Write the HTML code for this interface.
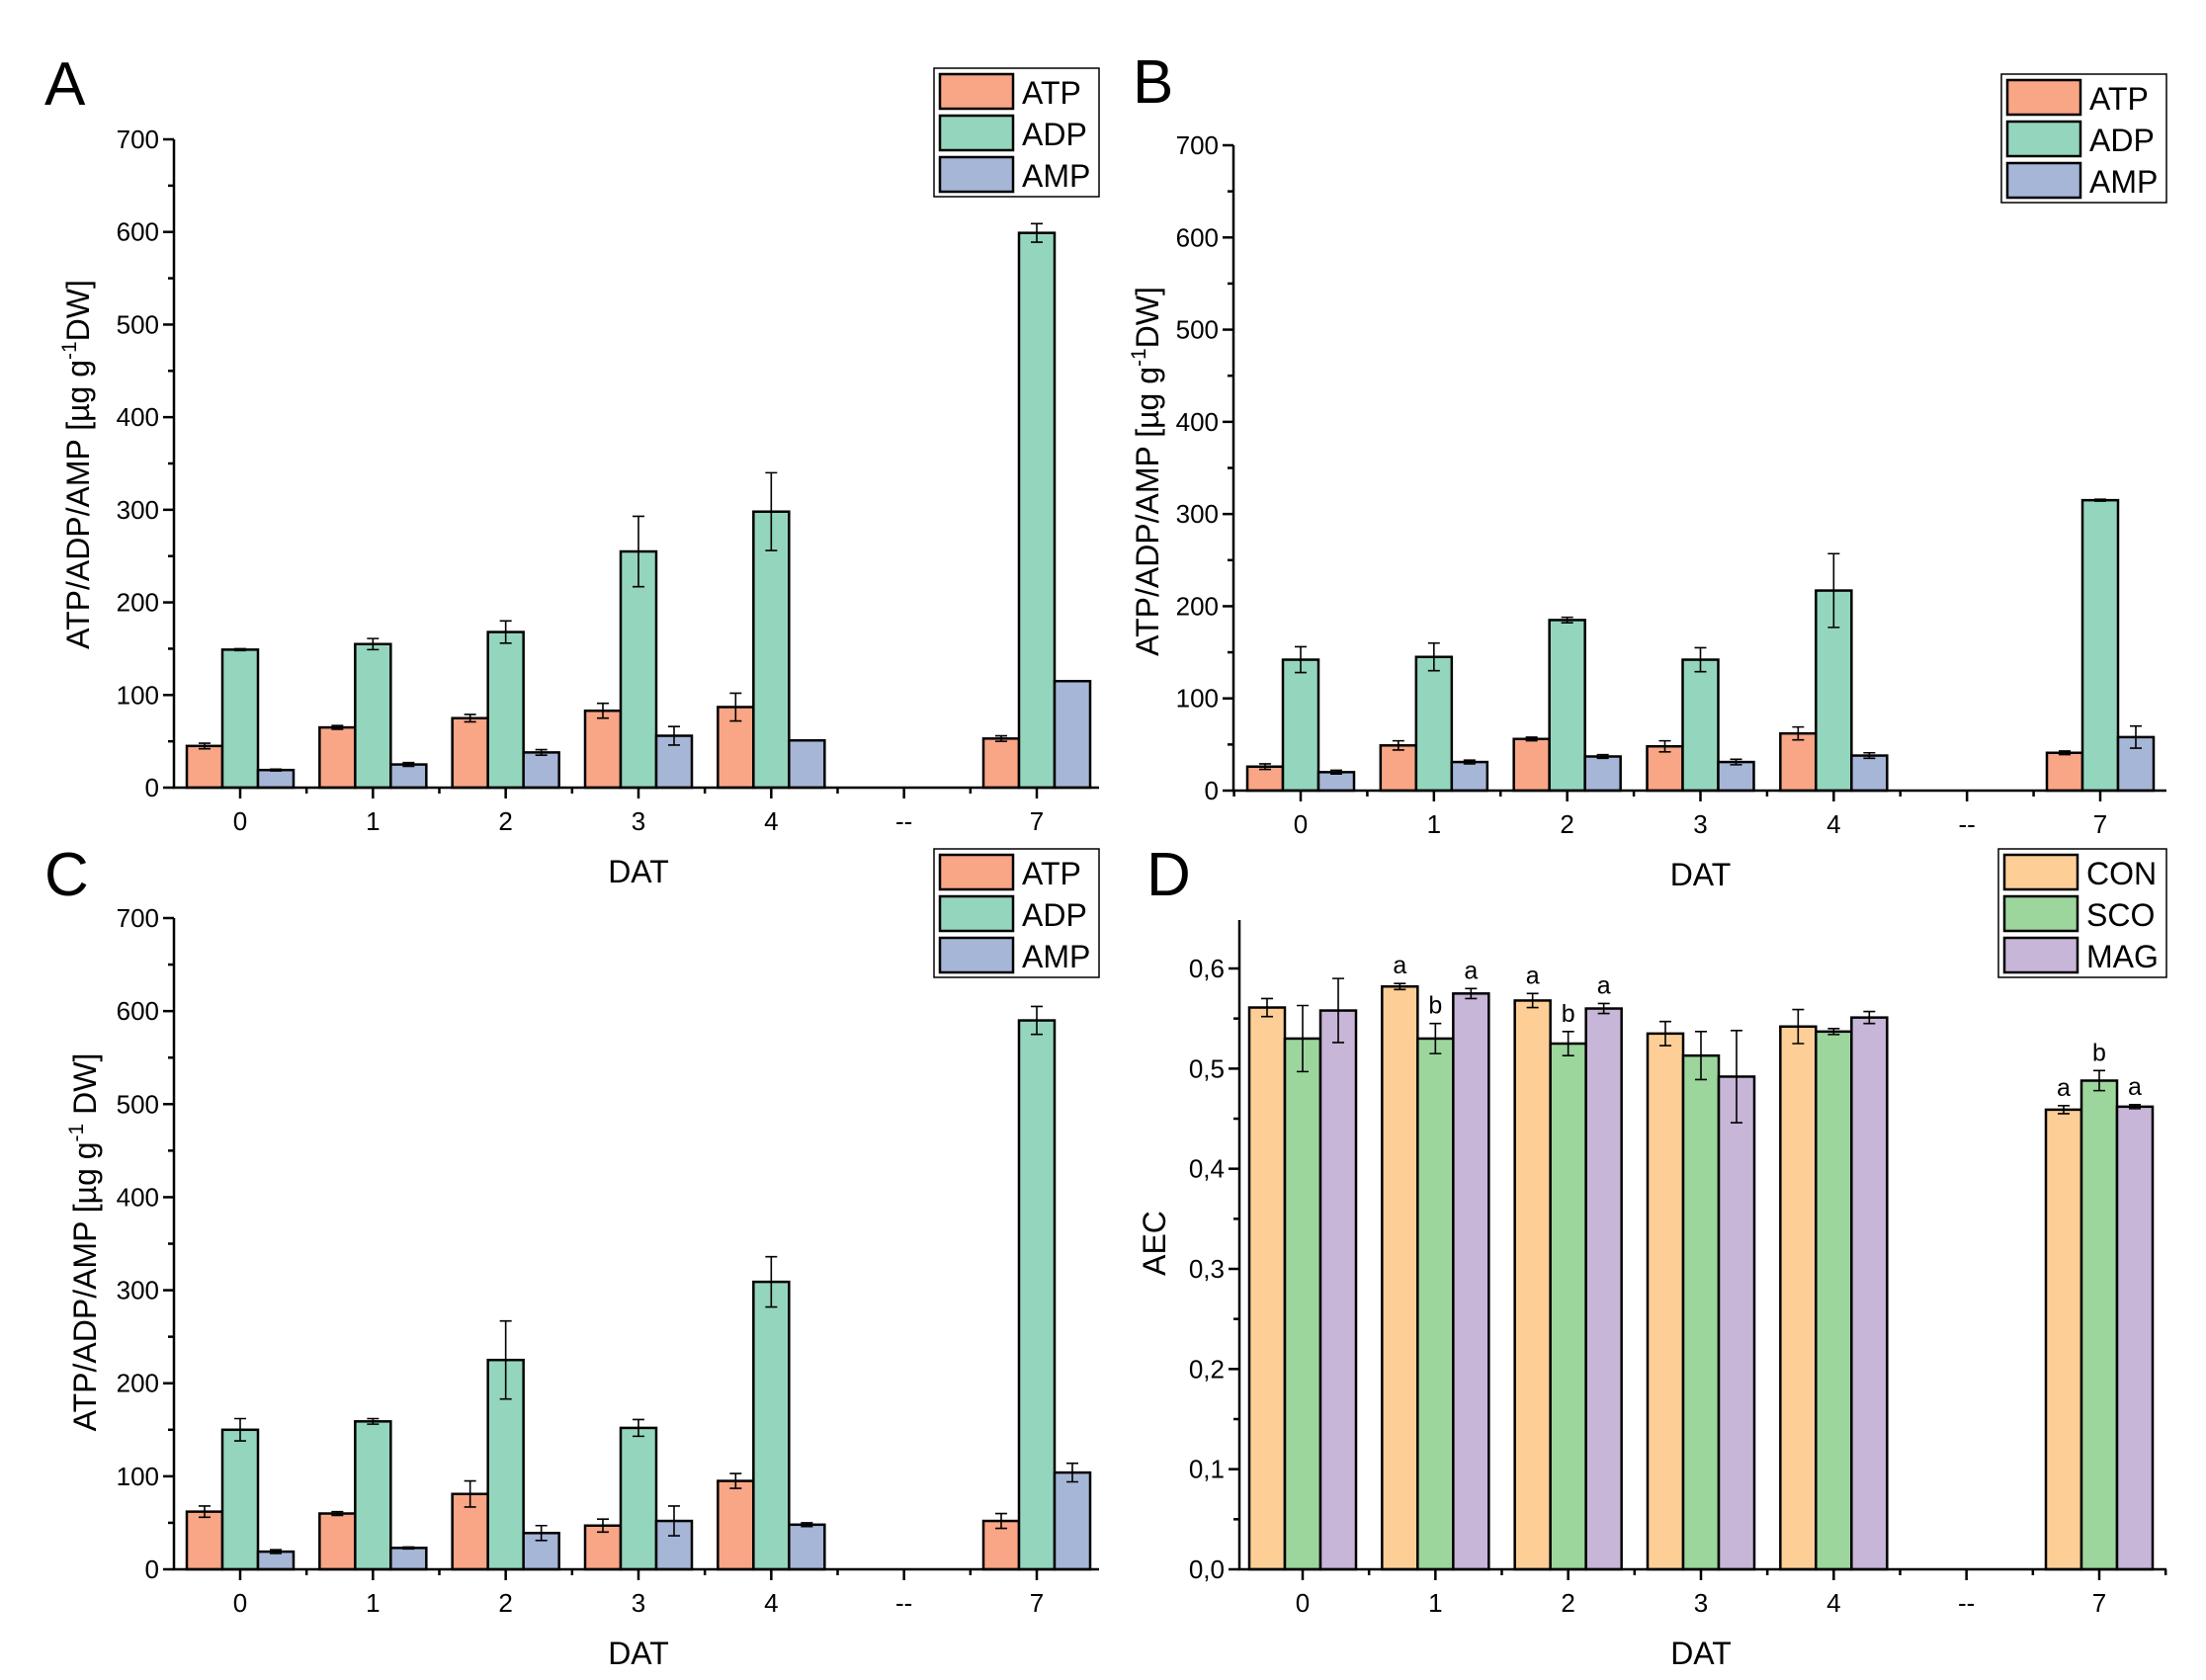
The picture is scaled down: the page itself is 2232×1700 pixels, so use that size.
<!DOCTYPE html>
<html><head><meta charset="utf-8"><style>
html,body{margin:0;padding:0;background:#fff;}
svg{display:block;font-family:"Liberation Sans",sans-serif;}
</style></head><body>
<svg id="fig" width="2232" height="1700" viewBox="0 0 2232 1700" xmlns="http://www.w3.org/2000/svg"></svg>
<script>
const categories = ["0","1","2","3","4","--","7"];
// Panel A
const aATP = [45,65,75,83,87,null,53];
const aATPerr = [3,2,4,8,15,null,3];
const aADP = [149,155,168,255,298,null,599];
const aADPerr = [1,6,12,38,42,null,10];
const aAMP = [19,25,38,56,51,null,115];
const aAMPerr = [1,2,3,10,0,null,0];
// Panel B
const bATP = [26,49,56,48,62,null,41];
const bATPerr = [3,5,2,6,7,null,2];
const bADP = [142,145,185,142,217,null,315];
const bADPerr = [14,15,3,13,40,null,1];
const bAMP = [20,31,37,31,38,null,58];
const bAMPerr = [2,2,2,3,3,null,12];
// Panel C
const cATP = [62,60,81,47,95,null,52];
const cATPerr = [6,2,14,7,8,null,8];
const cADP = [150,159,225,152,309,null,590];
const cADPerr = [12,3,42,9,27,null,15];
const cAMP = [19,23,39,52,48,null,104];
const cAMPerr = [2,1,8,16,2,null,10];
// Panel D
const dCON = [0.561,0.582,0.568,0.535,0.542,null,0.459];
const dCONerr = [0.009,0.003,0.007,0.012,0.017,null,0.004];
const dSCO = [0.530,0.530,0.525,0.513,0.537,null,0.488];
const dSCOerr = [0.033,0.015,0.012,0.024,0.003,null,0.010];
const dMAG = [0.558,0.575,0.560,0.492,0.551,null,0.462];
const dMAGerr = [0.032,0.005,0.005,0.046,0.006,null,0.002];
const dLetters = [null,["a","b","a"],["a","b","a"],null,null,null,["a","b","a"]];
const ticksABC = [0,100,200,300,400,500,600,700];
const ticksD = [0,0.1,0.2,0.3,0.4,0.5,0.6];
const ticksDLabels = ["0,0","0,1","0,2","0,3","0,4","0,5","0,6"];

const NS="http://www.w3.org/2000/svg";
const svg=document.getElementById('fig');
function mk(tag,attrs,parent,text){const e=document.createElementNS(NS,tag);for(const k in attrs)e.setAttribute(k,attrs[k]);if(text!==undefined)e.textContent=text;(parent||svg).appendChild(e);return e;}

function panel(cfg){
  const g=mk('g',{});
  
  
  const yS=v=>cfg.y0-(v-cfg.vmin)/(cfg.vref-cfg.vmin)*(cfg.y0-cfg.yref);
  const step=(cfg.cat7-cfg.cat0)/6;
  const xS=i=>cfg.cat0+i*step;
  const bw=36;
  cfg.series.forEach((s,si)=>{
    s.vals.forEach((v,i)=>{
      if(v===null)return;
      const x=xS(i)-1.5*bw+si*bw;
      const r=mk('rect',{x:x,y:yS(v),width:bw,height:cfg.y0-yS(v),fill:s.color,stroke:'#000','stroke-width':2.5},g);
      
      
      const e=s.err[i];
      if(e){
        const cx=x+bw/2;
        const eb=mk('path',{d:`M${cx},${yS(v+e)}V${yS(v-e)}M${cx-6},${yS(v+e)}h12M${cx-6},${yS(v-e)}h12`,stroke:'#000','stroke-width':1.6,fill:'none'},g);
        
        
      }
      if(cfg.letters&&cfg.letters[i]){
        const t=mk('text',{x:x+bw/2,y:yS(v+(e||0))-10,'text-anchor':'middle','font-size':25},g,cfg.letters[i][si]);
        
        
      }
    });
  });
  const ax=mk('path',{d:`M${cfg.axL},${cfg.top}V${cfg.y0}H${cfg.xR}`,stroke:'#000','stroke-width':2.5,fill:'none'},g);
  
  
  cfg.ticks.forEach((t,k)=>{
    const y=yS(t);
    mk('line',{x1:cfg.axL-11,x2:cfg.axL,y1:y,y2:y,stroke:'#000','stroke-width':2.5},g);
    const lb=mk('text',{x:cfg.axL-15,y:y+9,'text-anchor':'end','font-size':26},g,cfg.tickLabels?cfg.tickLabels[k]:String(t));
    
    
    if(k<cfg.ticks.length-1||cfg.extraMinor){
      const m=yS(t+cfg.minor);
      if(m>=cfg.top-1) mk('line',{x1:cfg.axL-6,x2:cfg.axL,y1:m,y2:m,stroke:'#000','stroke-width':2.5},g);
    }
  });
  categories.forEach((c,i)=>{
    const x=xS(i);
    mk('line',{x1:x,x2:x,y1:cfg.y0,y2:cfg.y0+11,stroke:'#000','stroke-width':2.5},g);
    const lb=mk('text',{x:x,y:cfg.y0+43,'text-anchor':'middle','font-size':26},g,c);
    
    
  });
  for(let i=-0.5;i<=6.5;i+=1){
    const x=xS(i);
    if(x>=cfg.axL&&x<=cfg.xR) mk('line',{x1:x,x2:x,y1:cfg.y0,y2:cfg.y0+6,stroke:'#000','stroke-width':2.5},g);
  }
  const xt=mk('text',{x:(cfg.cat0+cfg.cat7)/2,y:cfg.xTitleY,'text-anchor':'middle','font-size':32},g,'DAT');
  
  
  const yt=mk('text',{x:0,y:0,'text-anchor':'middle','font-size':32,transform:`translate(${cfg.yTitleX},${cfg.yTitleY}) rotate(-90)`},g);
  
  
  if(cfg.aec){yt.textContent='AEC';}
  else{
    mk('tspan',{},yt,cfg.ylabA);
    mk('tspan',{'font-size':21,dy:-13},yt,'-1');
    mk('tspan',{dy:13},yt,cfg.ylabB);
  }
  const pl=mk('text',{x:cfg.letterX,y:cfg.letterY,'font-size':62},g,cfg.letter);
  
  
  const L=cfg.legend;
  const lg=mk('g',{},g);
  
  
  mk('rect',{x:L.x,y:L.y,width:L.w,height:L.h,fill:'#fff',stroke:'#000','stroke-width':1.5},lg);
  cfg.series.forEach((s,si)=>{
    const ry=L.y+6+si*42;
    const sw=mk('rect',{x:L.x+6,y:ry,width:74,height:35,fill:s.color,stroke:'#000','stroke-width':2.5},lg);
    
    
    const tx=mk('text',{x:L.x+89,y:ry+30,'font-size':32},lg,s.label);
    
    
  });
}
const cA='#f9a686',cD='#94d6bd',cM='#a6b6d7';
panel({name:'panel-a',letter:'A',letterX:45,letterY:106,axL:176,y0:797,yref:141,vref:700,vmin:0,top:141,xR:1112,cat0:243,cat7:1049,
  ticks:ticksABC,minor:50,xTitleY:893,yTitleX:90,yTitleY:470,ylabA:'ATP/ADP/AMP [µg g',ylabB:'DW]',
  series:[{label:'ATP',vals:aATP,err:aATPerr,color:cA},{label:'ADP',vals:aADP,err:aADPerr,color:cD},{label:'AMP',vals:aAMP,err:aAMPerr,color:cM}],
  legend:{x:945,y:69,w:167,h:130}});
panel({name:'panel-b',letter:'B',letterX:1146,letterY:104,axL:1248,y0:800,yref:147,vref:700,vmin:0,top:147,xR:2192,cat0:1316,cat7:2125,
  ticks:ticksABC,minor:50,xTitleY:896,yTitleX:1172,yTitleY:477,ylabA:'ATP/ADP/AMP [µg g',ylabB:'DW]',
  series:[{label:'ATP',vals:bATP,err:bATPerr,color:cA},{label:'ADP',vals:bADP,err:bADPerr,color:cD},{label:'AMP',vals:bAMP,err:bAMPerr,color:cM}],
  legend:{x:2025,y:75,w:167,h:130}});
panel({name:'panel-c',letter:'C',letterX:45,letterY:906,axL:176,y0:1588,yref:929,vref:700,vmin:0,top:929,xR:1112,cat0:243,cat7:1049,
  ticks:ticksABC,minor:50,xTitleY:1684,yTitleX:97,yTitleY:1257,ylabA:'ATP/ADP/AMP [µg g',ylabB:' DW]',
  series:[{label:'ATP',vals:cATP,err:cATPerr,color:cA},{label:'ADP',vals:cADP,err:cADPerr,color:cD},{label:'AMP',vals:cAMP,err:cAMPerr,color:cM}],
  legend:{x:945,y:859,w:167,h:130}});
panel({name:'panel-d',letter:'D',letterX:1160,letterY:906,axL:1254,y0:1588,yref:980,vref:0.6,vmin:0,top:931,xR:2192,cat0:1318,cat7:2124,
  ticks:ticksD,tickLabels:ticksDLabels,minor:0.05,extraMinor:true,xTitleY:1684,yTitleX:1179,yTitleY:1258,aec:true,letters:dLetters,
  series:[{label:'CON',vals:dCON,err:dCONerr,color:'#fdcf97'},{label:'SCO',vals:dSCO,err:dSCOerr,color:'#9cd69d'},{label:'MAG',vals:dMAG,err:dMAGerr,color:'#c7b6d8'}],
  legend:{x:2022,y:859,w:170,h:130}});
</script>
</body></html>
